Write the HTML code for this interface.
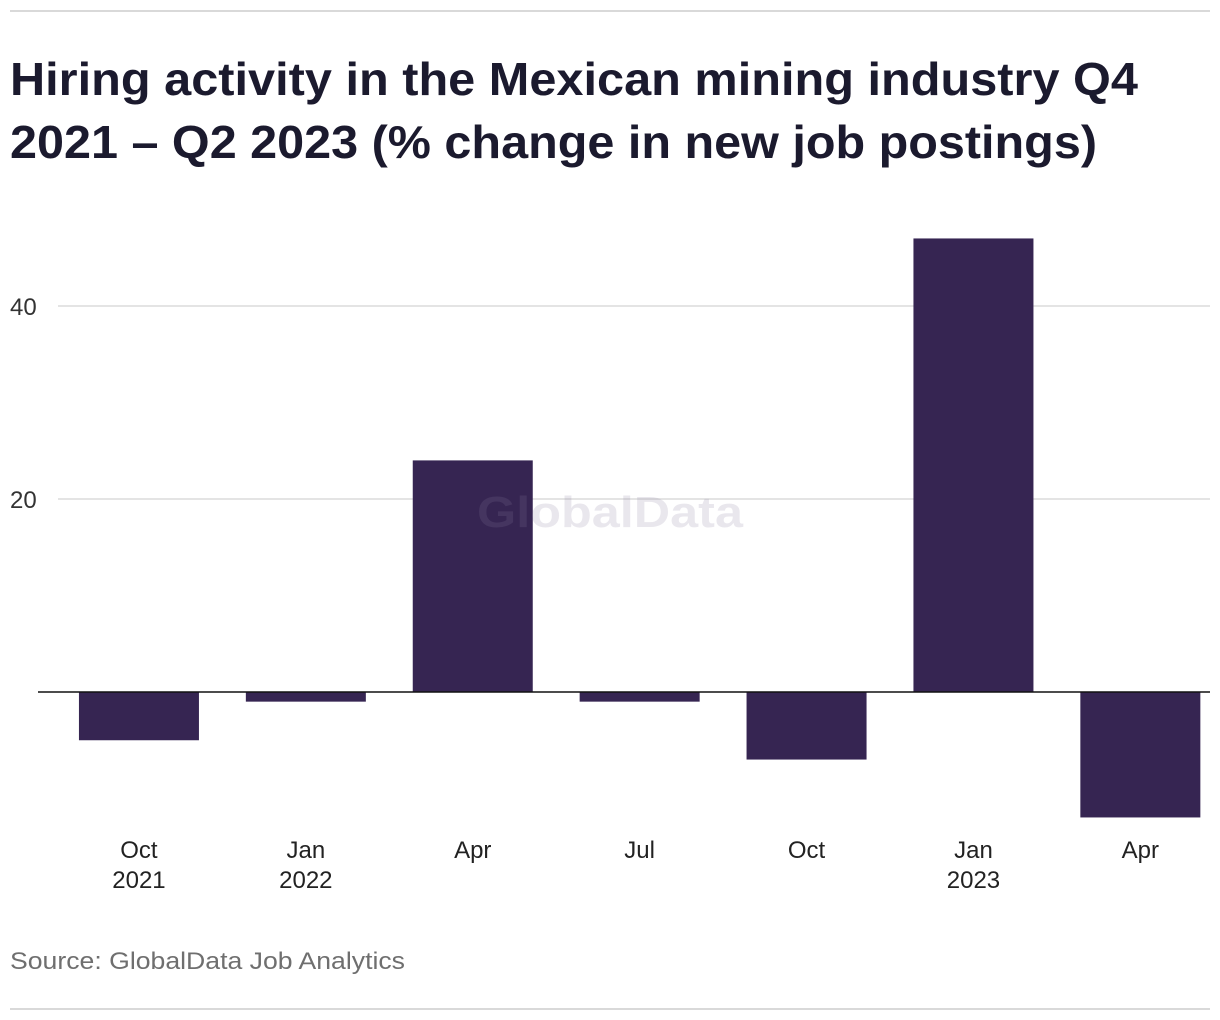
<!DOCTYPE html>
<html><head><meta charset="utf-8"><style>
html,body{margin:0;padding:0;background:#fff;}
svg{display:block;font-family:"Liberation Sans",sans-serif;}
</style></head><body>
<svg id="chart" width="1220" height="1020">
<line x1="10" y1="11" x2="1210" y2="11" stroke="#d9d9d9" stroke-width="2"/>
<text x="10" y="95" font-size="46" font-weight="bold" fill="#1b1a2e" textLength="1128" lengthAdjust="spacingAndGlyphs">Hiring activity in the Mexican mining industry Q4</text>
<text x="10" y="158" font-size="46" font-weight="bold" fill="#1b1a2e" textLength="1087" lengthAdjust="spacingAndGlyphs">2021 – Q2 2023 (% change in new job postings)</text>
<g id="grid"></g>
<g id="bars"></g>
<text x="477" y="527" font-size="44" font-weight="bold" fill="#8a7fa0" opacity="0.18" textLength="266" lengthAdjust="spacingAndGlyphs">GlobalData</text>
<g id="xlabels"></g>
<text x="10" y="969" font-size="24" fill="#6f6f6f" textLength="395" lengthAdjust="spacingAndGlyphs">Source: GlobalData Job Analytics</text>
<line x1="10" y1="1009" x2="1210" y2="1009" stroke="#d9d9d9" stroke-width="2"/>
</svg>
<script>
const categories = ["Oct 2021","Jan 2022","Apr","Jul","Oct","Jan 2023","Apr"];
const labelLine1 = ["Oct","Jan","Apr","Jul","Oct","Jan","Apr"];
const labelLine2 = ["2021","2022","","","","2023",""];
const values = [-5,-1,24,-1,-7,47,-13];
const yTicks = [20,40];

const NS="http://www.w3.org/2000/svg";
const y0=692, pxPerUnit=9.65;
const y=v=>y0-v*pxPerUnit;
const left=55.5, step=166.9, barW=120;
const xc=i=>left+step*(i+0.5);
const grid=document.getElementById('grid'), bars=document.getElementById('bars'), xl=document.getElementById('xlabels');
function mk(tag,attrs,parent){const e=document.createElementNS(NS,tag);for(const k in attrs)e.setAttribute(k,attrs[k]);parent.appendChild(e);return e;}
yTicks.forEach(t=>{
  const l=mk('line',{x1:58,x2:1210,y1:y(t),y2:y(t),stroke:'#dcdcdc','stroke-width':1.5},grid);
  
  
  const tx=mk('text',{x:10,y:y(t)+9,'font-size':24,fill:'#333'},grid);
  tx.textContent=t;
  
  
});
values.forEach((v,i)=>{
  const top=Math.min(y(v),y0), h=Math.abs(y(v)-y0);
  const r=mk('rect',{x:xc(i)-barW/2,y:top,width:barW,height:h,fill:'#362552'},bars);
  
  
  const t1=mk('text',{x:xc(i),y:858,'font-size':24,fill:'#222','text-anchor':'middle'},xl);
  t1.textContent=labelLine1[i];
  
  
  if(labelLine2[i]){
    const t2=mk('text',{x:xc(i),y:888,'font-size':24,fill:'#222','text-anchor':'middle'},xl);
    t2.textContent=labelLine2[i];
    
    
  }
});
const z=mk('line',{x1:38,x2:1210,y1:y0,y2:y0,stroke:'#111','stroke-width':1.5},bars);


</script>
</body></html>
